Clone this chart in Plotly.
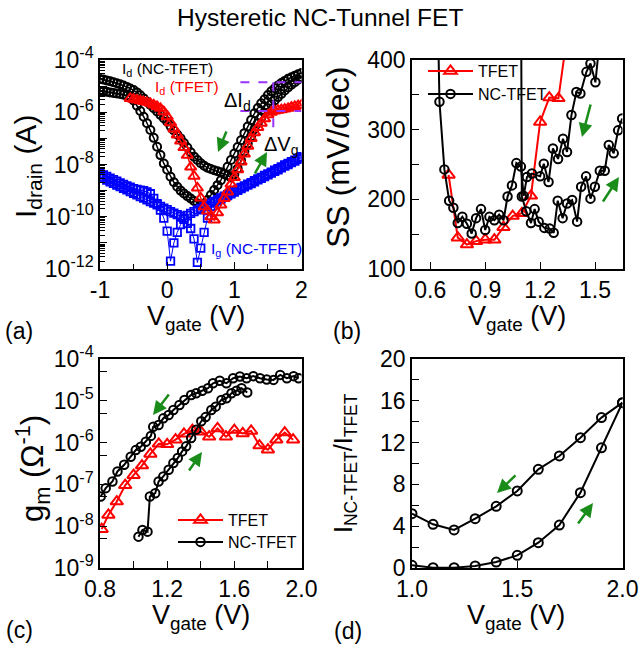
import numpy as np
import plotly.graph_objects as go

FONT = "Liberation Sans, Arial, Helvetica, sans-serif"
W, H = 640, 649

# ---------------- (a) transfer characteristics (log10 of current in A) ----------------
vg_sweep = [-1.00, -0.95, -0.90, -0.85, -0.80, -0.75, -0.70, -0.65, -0.60, -0.55,
            -0.50, -0.45, -0.40, -0.35, -0.30, -0.25, -0.20, -0.15, -0.10, -0.05,
            0.00, 0.05, 0.10, 0.15, 0.20, 0.25, 0.30, 0.35, 0.40, 0.45,
            0.50, 0.55, 0.60, 0.65, 0.70, 0.75, 0.80, 0.85, 0.90, 0.95,
            1.00, 1.05, 1.10, 1.15, 1.20, 1.25, 1.30, 1.35, 1.40, 1.45,
            1.50, 1.55, 1.60, 1.65, 1.70, 1.75, 1.80, 1.85, 1.90, 1.95, 2.00]
log_id_nc_fwd = [-4.73, -4.75, -4.78, -4.81, -4.85, -4.89, -4.93, -4.98, -5.03, -5.09,
                 -5.15, -5.24, -5.35, -5.47, -5.60, -5.72, -5.85, -5.97, -6.10, -6.23,
                 -6.36, -6.53, -6.70, -6.85, -7.00, -7.18, -7.35, -7.53, -7.70, -7.83,
                 -7.95, -8.05, -8.12, -8.17, -8.22, -8.26, -8.30, -8.36, -8.42, -8.50,
                 -8.38, -8.15, -7.85, -7.50, -7.20, -6.92, -6.65, -6.42, -6.20, -6.02,
                 -5.85, -5.70, -5.55, -5.42, -5.30, -5.17, -5.05, -4.95, -4.85, -4.75, -4.65]
log_id_nc_bwd = [-5.19, -5.20, -5.22, -5.24, -5.26, -5.28, -5.30, -5.33, -5.36, -5.40,
                 -5.55, -5.75, -5.95, -6.17, -6.42, -6.68, -6.98, -7.32, -7.64, -7.96,
                 -8.20, -8.47, -8.68, -8.85, -9.00, -9.11, -9.21, -9.30, -9.40, -9.49,
                 -9.55, -9.50, -9.36, -9.17, -8.98, -8.79, -8.60, -8.35, -8.09, -7.83,
                 -7.58, -7.33, -7.07, -6.80, -6.55, -6.30, -6.04, -5.84, -5.66, -5.50,
                 -5.34, -5.20, -5.08, -4.98, -4.88, -4.80, -4.72, -4.66, -4.60, -4.55, -4.50]
log_ig_fwd = [-8.35, -8.40, -8.46, -8.52, -8.58, -8.64, -8.70, -8.76, -8.82, -8.87,
              -8.92, -8.95, -8.98, -9.00, -9.05, -9.12, -9.30, -9.50, -9.75, -10.05,
              -10.55, -11.70, -11.00, -10.60, -10.30, -10.10, -9.95, -9.87, -9.80, -9.74,
              -9.68, -9.61, -9.55, -9.48, -9.41, -9.35, -9.28, -9.21, -9.15, -9.08,
              -9.02, -8.95, -8.88, -8.82, -8.75, -8.69, -8.62, -8.55, -8.49, -8.42,
              -8.36, -8.29, -8.22, -8.16, -8.09, -8.02, -7.96, -7.89, -7.83, -7.76, -7.70]
log_ig_bwd = [-8.47, -8.53, -8.60, -8.66, -8.72, -8.79, -8.85, -8.91, -8.97, -9.04,
              -9.10, -9.16, -9.23, -9.29, -9.35, -9.42, -9.48, -9.54, -9.60, -9.67,
              -9.73, -9.80, -9.86, -9.92, -9.98, -10.05, -10.25, -10.45, -10.85, -11.75,
              -11.20, -10.60, -10.05, -9.60, -9.45, -9.39, -9.32, -9.26, -9.19, -9.12,
              -9.06, -8.99, -8.92, -8.86, -8.79, -8.73, -8.66, -8.59, -8.53, -8.46,
              -8.40, -8.33, -8.26, -8.20, -8.13, -8.06, -8.00, -7.93, -7.87, -7.80, -7.74]
vg_tfet = [-0.55, -0.50, -0.45, -0.40, -0.35, -0.30, -0.25, -0.20, -0.15, -0.10, -0.05,
           0.00, 0.05, 0.10, 0.15, 0.20, 0.25, 0.30, 0.35, 0.40, 0.45,
           0.50, 0.55, 0.60, 0.65, 0.70, 0.75, 0.80, 0.85, 0.90, 0.95,
           1.00, 1.05, 1.10, 1.15, 1.20, 1.25, 1.30, 1.35, 1.40, 1.45,
           1.50, 1.55, 1.60, 1.65, 1.70, 1.75, 1.80, 1.85, 1.90, 1.95, 2.00]
log_id_tfet = [-5.47, -5.50, -5.53, -5.56, -5.59, -5.62, -5.66, -5.72, -5.78, -5.85, -5.98,
               -6.17, -6.40, -6.64, -6.87, -7.10, -7.35, -7.65, -8.10, -8.45, -8.90,
               -9.28, -9.62, -9.78, -10.00, -10.12, -9.85, -9.55, -9.30, -9.05, -8.75,
               -8.50, -8.20, -7.90, -7.60, -7.30, -7.00, -6.78, -6.58, -6.42, -6.25,
               -6.10, -6.00, -5.95, -5.92, -5.90, -5.88, -5.85, -5.80, -5.78, -5.75, -5.72]
# Delta markers (gate voltage and log10 current levels)
delta_v_start, delta_v_end, delta_v_at = 1.09, 2.0, 1.58
delta_log_hi, delta_log_lo, delta_log_bottom = -4.85, -5.95, -6.75

# ---------------- (b) subthreshold swing (mV/dec) ----------------
vg_ss_tfet = [0.70, 0.75, 0.80, 0.85, 0.90, 0.95, 1.00, 1.05, 1.10, 1.15, 1.20, 1.25, 1.30, 1.35]
ss_tfet = [235, 145, 135, 140, 142, 142, 160, 176, 180, 205, 311, 346, 345, 440]
vg_ss_nc_bwd = [0.640, 0.650, 0.677, 0.703, 0.726, 0.750, 0.775, 0.800, 0.826, 0.850,
                0.877, 0.900, 0.923, 0.950, 0.976, 1.000, 1.022, 1.046, 1.070, 1.095,
                1.110, 1.128, 1.155, 1.200, 1.220, 1.246, 1.270, 1.298, 1.325, 1.347,
                1.371, 1.398, 1.420, 1.453, 1.475, 1.502, 1.530]
ss_nc_bwd = [480, 340, 243, 198, 188, 166, 175, 165, 151, 173,
             186, 156, 175, 170, 178, 170, 204, 220, 252, 247,
             205, 232, 237, 233, 251, 225, 273, 258, 287, 268,
             321, 354, 352, 383, 395, 368, 440]
vg_ss_nc_fwd = [1.093, 1.100, 1.124, 1.150, 1.170, 1.192, 1.223, 1.252, 1.274, 1.296,
                1.323, 1.347, 1.375, 1.402, 1.424, 1.451, 1.475, 1.499, 1.526, 1.553,
                1.575, 1.602, 1.626, 1.648]
ss_nc_fwd = [700, 204, 183, 166, 186, 168, 159, 158, 152, 198,
             173, 194, 199, 168, 218, 233, 201, 218, 241, 241,
             278, 266, 299, 316]

# ---------------- (c) transconductance (log10 of S) ----------------
vg_gm_tfet = [0.81, 0.85, 0.90, 0.95, 1.00, 1.05, 1.10, 1.15, 1.20, 1.25, 1.30, 1.35,
              1.40, 1.45, 1.50, 1.55, 1.60, 1.65, 1.70, 1.75, 1.80, 1.85, 1.90, 1.95]
log_gm_tfet = [-8.07, -7.73, -7.41, -7.02, -6.78, -6.55, -6.27, -6.03, -6.04, -5.93, -5.79, -5.70,
               -5.74, -5.86, -5.66, -5.86, -5.70, -5.78, -5.72, -6.07, -6.17, -5.93, -5.76, -5.93]
vg_gm_nc_bwd = [0.804, 0.834, 0.874, 0.904, 0.944, 0.983, 1.013, 1.043, 1.073, 1.103,
                1.117, 1.149, 1.177, 1.209, 1.237, 1.273, 1.303, 1.343, 1.373, 1.409,
                1.443, 1.473, 1.513, 1.553, 1.593, 1.633, 1.673, 1.713, 1.753, 1.793,
                1.833, 1.873, 1.913, 1.953, 1.983]
log_gm_nc_bwd = [-7.29, -7.09, -6.93, -6.69, -6.53, -6.34, -6.18, -6.10, -5.98, -5.84,
                 -5.62, -5.58, -5.42, -5.34, -5.22, -5.10, -4.98, -4.86, -4.82, -4.76,
                 -4.70, -4.58, -4.52, -4.58, -4.46, -4.42, -4.46, -4.41, -4.46, -4.49,
                 -4.50, -4.38, -4.46, -4.41, -4.46]
vg_gm_nc_fwd = [1.029, 1.053, 1.083, 1.097, 1.129, 1.149, 1.177, 1.209, 1.237, 1.263,
                1.289, 1.313, 1.343, 1.373, 1.403, 1.429, 1.463, 1.489, 1.523, 1.553,
                1.583, 1.613, 1.643, 1.677]
log_gm_nc_fwd = [-8.25, -8.09, -8.13, -7.29, -7.21, -6.93, -6.81, -6.65, -6.49, -6.37,
                 -6.21, -6.09, -5.89, -5.69, -5.49, -5.39, -5.22, -5.14, -4.98, -4.94,
                 -4.82, -4.76, -4.70, -4.80]

# ---------------- (d) current ratio ----------------
vg_ratio = [1.0, 1.1, 1.2, 1.3, 1.4, 1.5, 1.6, 1.7, 1.8, 1.9, 2.0]
ratio_bwd = [5.2, 4.18, 3.64, 4.72, 5.9, 7.37, 9.44, 10.72, 12.47, 14.39, 15.82]
ratio_fwd = [0.26, 0.03, 0.03, 0.19, 0.57, 1.21, 2.42, 4.11, 7.21, 11.5, 15.82]

RED, BLUE, BLACK = "#ff0000", "#0000ff", "#000000"
GREEN, PURPLE = "#1a8c1a", "#9933ff"


def px(x):
    return x / W


def py(y):
    return 1 - y / H


def p10(a):
    return 10 ** np.array(a)


fig = go.Figure()

# (a)
for ys in (log_id_nc_fwd, log_id_nc_bwd):
    fig.add_trace(go.Scatter(x=vg_sweep, y=p10(ys), mode="lines+markers", xaxis="x", yaxis="y",
                             line=dict(color=BLACK, width=1.5),
                             marker=dict(symbol="circle-open", size=8, color=BLACK, line=dict(width=2)),
                             showlegend=False))
for ys in (log_ig_fwd, log_ig_bwd):
    fig.add_trace(go.Scatter(x=vg_sweep, y=p10(ys), mode="lines+markers", xaxis="x", yaxis="y",
                             line=dict(color=BLUE, width=1),
                             marker=dict(symbol="square-open", size=7.5, color=BLUE, line=dict(width=1.8)),
                             showlegend=False))
fig.add_trace(go.Scatter(x=vg_tfet, y=p10(log_id_tfet), mode="lines+markers", xaxis="x", yaxis="y",
                         line=dict(color=RED, width=1.5),
                         marker=dict(symbol="triangle-up-open", size=10, color=RED, line=dict(width=2)),
                         showlegend=False))
dash = dict(color=PURPLE, width=2, dash="dash")
fig.add_trace(go.Scatter(x=[delta_v_start, delta_v_end], y=p10([delta_log_hi, delta_log_hi]), mode="lines",
                         xaxis="x", yaxis="y", line=dash, showlegend=False))
fig.add_trace(go.Scatter(x=[delta_v_start, delta_v_end], y=p10([delta_log_lo, delta_log_lo]), mode="lines",
                         xaxis="x", yaxis="y", line=dash, showlegend=False))
fig.add_trace(go.Scatter(x=[delta_v_at, delta_v_at], y=p10([delta_log_hi, delta_log_bottom]), mode="lines",
                         xaxis="x", yaxis="y", line=dash, showlegend=False))

# (b)
fig.add_trace(go.Scatter(x=vg_ss_tfet, y=ss_tfet, mode="lines+markers", xaxis="x2", yaxis="y2", name="TFET",
                         line=dict(color=RED, width=2),
                         marker=dict(symbol="triangle-up-open", size=11, color=RED, line=dict(width=2)),
                         legend="legend"))
fig.add_trace(go.Scatter(x=vg_ss_nc_bwd, y=ss_nc_bwd, mode="lines+markers", xaxis="x2", yaxis="y2", name="NC-TFET",
                         line=dict(color=BLACK, width=2),
                         marker=dict(symbol="circle-open", size=8.5, color=BLACK, line=dict(width=2)),
                         legend="legend3"))
fig.add_trace(go.Scatter(x=vg_ss_nc_fwd, y=ss_nc_fwd, mode="lines+markers", xaxis="x2", yaxis="y2",
                         line=dict(color=BLACK, width=2),
                         marker=dict(symbol="circle-open", size=8.5, color=BLACK, line=dict(width=2)),
                         showlegend=False))

# (c)
fig.add_trace(go.Scatter(x=vg_gm_tfet, y=p10(log_gm_tfet), mode="lines+markers", xaxis="x3", yaxis="y3",
                         name="TFET", line=dict(color=RED, width=2),
                         marker=dict(symbol="triangle-up-open", size=11, color=RED, line=dict(width=2)),
                         legend="legend2"))
fig.add_trace(go.Scatter(x=vg_gm_nc_bwd, y=p10(log_gm_nc_bwd), mode="lines+markers", xaxis="x3", yaxis="y3",
                         name="NC-TFET", line=dict(color=BLACK, width=2),
                         marker=dict(symbol="circle-open", size=8.5, color=BLACK, line=dict(width=2)),
                         legend="legend4"))
fig.add_trace(go.Scatter(x=vg_gm_nc_fwd, y=p10(log_gm_nc_fwd), mode="lines+markers", xaxis="x3", yaxis="y3",
                         line=dict(color=BLACK, width=2),
                         marker=dict(symbol="circle-open", size=8.5, color=BLACK, line=dict(width=2)),
                         showlegend=False))

# (d)
for ys in (ratio_bwd, ratio_fwd):
    fig.add_trace(go.Scatter(x=vg_ratio, y=ys, mode="lines+markers", xaxis="x4", yaxis="y4",
                             line=dict(color=BLACK, width=2),
                             marker=dict(symbol="circle-open", size=9, color=BLACK, line=dict(width=2)),
                             showlegend=False))

TICKFONT = dict(family=FONT, size=23, color=BLACK)
common = dict(showline=True, linecolor=BLACK, linewidth=1.5, mirror=True, ticks="inside",
              tickcolor=BLACK, tickwidth=1.3, ticklen=7, showgrid=False, zeroline=False,
              tickfont=TICKFONT, automargin=False)

xa_dom = [100 / W, 301.5 / W]
xb_dom = [412 / W, 622.5 / W]
top_dom = [py(269), py(60)]
bot_dom = [py(568), py(359)]

dec_a = list(range(-12, -3))
dec_c = list(range(-9, -3))


def leg(x, y):
    return dict(x=px(x), y=py(y), xanchor="left", yanchor="middle", bgcolor="rgba(0,0,0,0)",
                font=dict(family=FONT, size=16, color=BLACK), itemwidth=45, tracegroupgap=0,
                borderwidth=0)


fig.update_layout(
    template="none",
    width=W, height=H, margin=dict(l=0, r=0, t=0, b=0, pad=0, autoexpand=False),
    paper_bgcolor="white", plot_bgcolor="white",
    font=dict(family=FONT, color=BLACK),
    xaxis=dict(domain=xa_dom, anchor="y", range=[-1, 2], tickmode="array",
               tickvals=[-1, 0, 1, 2], ticktext=["-1", "0", "1", "2"],
               minor=dict(dtick=0.5, tick0=0, ticks="inside", ticklen=5, tickcolor=BLACK), **common),
    yaxis=dict(domain=top_dom, anchor="x", type="log", range=[-12, -4], tickmode="array",
               tickvals=[10.0 ** e for e in dec_a],
               ticktext=[("10<sup>%d</sup>" % e) if e % 2 == 0 else "" for e in dec_a],
               minor=dict(tickmode="array", tickvals=[k * 10.0 ** e for e in dec_a[:-1] for k in range(2, 10)],
                          ticks="inside", ticklen=5, tickcolor=BLACK), **common),
    xaxis2=dict(domain=xb_dom, anchor="y2", range=[0.5, 1.65], tickmode="array",
                tickvals=[0.6, 0.9, 1.2, 1.5], ticktext=["0.6", "0.9", "1.2", "1.5"], **common),
    yaxis2=dict(domain=top_dom, anchor="x2", range=[100, 400], tickmode="array",
                tickvals=[100, 200, 300, 400],
                minor=dict(tickmode="array", tickvals=[150, 250, 350], ticks="inside", ticklen=7,
                           tickcolor=BLACK), **common),
    xaxis3=dict(domain=xa_dom, anchor="y3", range=[0.8, 2.0], tickmode="array",
                tickvals=[0.8, 1.2, 1.6, 2.0], ticktext=["0.8", "1.2", "1.6", "2.0"],
                minor=dict(tickmode="array", tickvals=[1.0, 1.4, 1.8], ticks="inside", ticklen=7,
                           tickcolor=BLACK), **common),
    yaxis3=dict(domain=bot_dom, anchor="x3", type="log", range=[-9, -4], tickmode="array",
                tickvals=[10.0 ** e for e in dec_c],
                ticktext=["10<sup>%d</sup>" % e for e in dec_c],
                minor=dict(tickmode="array", tickvals=[5 * 10.0 ** e for e in dec_c[:-1]],
                           ticks="inside", ticklen=7, tickcolor=BLACK), **common),
    xaxis4=dict(domain=xb_dom, anchor="y4", range=[1.0, 2.0], tickmode="array",
                tickvals=[1.0, 1.5, 2.0], ticktext=["1.0", "1.5", "2.0"], **common),
    yaxis4=dict(domain=bot_dom, anchor="x4", range=[0, 20], tickmode="array",
                tickvals=[0, 4, 8, 12, 16, 20],
                minor=dict(tickmode="array", tickvals=[2, 6, 10, 14, 18], ticks="inside", ticklen=7,
                           tickcolor=BLACK), **common),
    legend=leg(423, 71),
    legend3=leg(423, 94),
    legend2=leg(173, 520),
    legend4=leg(173, 542),
)

ann = []


def text(x, y, s, size, color=BLACK, xanchor="center", angle=0):
    ann.append(dict(x=px(x), y=py(y), xref="paper", yref="paper", text=s, showarrow=False,
                    xanchor=xanchor, yanchor="middle", textangle=angle,
                    font=dict(family=FONT, size=size, color=color)))


def arrow(tx, ty, hx, hy):
    ann.append(dict(x=px(hx), y=py(hy), xref="paper", yref="paper", text="", showarrow=True,
                    ax=tx - hx, ay=ty - hy, axref="pixel", ayref="pixel",
                    arrowhead=2, arrowsize=1.1, arrowwidth=2.5, arrowcolor=GREEN, standoff=0))


text(320, 18, "Hysteretic NC-Tunnel FET", 24.5)
# panel labels
text(19, 331, "(a)", 23)
text(347, 331, "(b)", 23)
text(19, 630, "(c)", 23)
text(348, 631, "(d)", 23)
# axis titles
for cx, cy in ((196, 318), (517, 318), (201, 617), (516, 617)):
    text(cx, cy, "V<sub>gate</sub> (V)", 27)
text(27, 167, "I<sub>drain</sub> (A)", 30, angle=-90)
text(338, 158, "SS (mV/dec)", 32, angle=-90)
text(32, 469, "g<sub>m</sub> (Ω<sup>-1</sup>)", 31, angle=-90)
text(345, 463, "I<sub>NC-TFET</sub>/I<sub>TFET</sub>", 25, angle=-90)
# panel (a) labels
text(120, 70, "I<sub>d</sub> (NC-TFET)", 15.5, BLACK, "left")
text(153, 88, "I<sub>d</sub> (TFET)", 15.5, RED, "left")
text(222, 101, "ΔI<sub>d</sub>", 20, BLACK, "left")
text(262, 145, "ΔV<sub>g</sub>", 20, BLACK, "left")
text(209, 250, "I<sub>g</sub> (NC-TFET)", 15.5, BLUE, "left")
# sweep-direction arrows
arrow(227, 130, 218, 152)
arrow(254, 175, 267, 152)
arrow(591, 103, 582, 137)
arrow(602, 203, 619, 177)
arrow(170, 393, 153, 415)
arrow(188, 472, 202, 452)
arrow(517, 474, 497, 493)
arrow(577, 525, 593, 503)

fig.update_layout(annotations=ann)
fig.write_html("out.html")
